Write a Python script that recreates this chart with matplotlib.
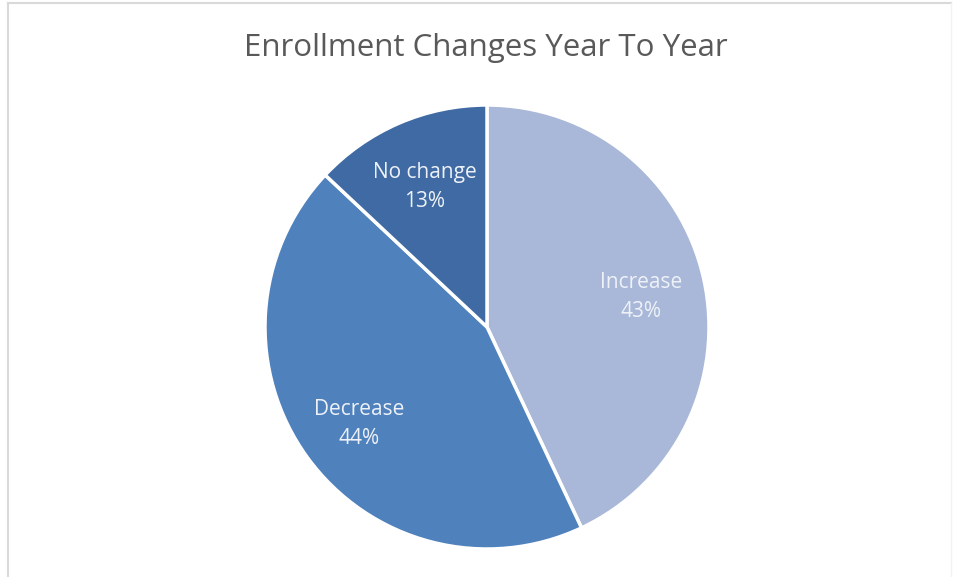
import numpy as np
import matplotlib
matplotlib.use("Agg")
import matplotlib.pyplot as plt
from matplotlib.lines import Line2D

categories = ["Increase", "Decrease", "No change"]
shares = [43, 44, 13]
colors = ["#A9B8D8", "#4F81BD", "#3F6AA3"]

plt.rcParams["font.family"] = ["Open Sans", "DejaVu Sans"]

fig = plt.figure(figsize=(9.56, 5.77), dpi=100)
fig.patch.set_facecolor("white")

# chart-area frame (top, left, right)
fig.add_artist(Line2D([8 / 956, 951 / 956], [1 - 3 / 577, 1 - 3 / 577],
                      transform=fig.transFigure, color="#D9D9D9", lw=1.5))
fig.add_artist(Line2D([8 / 956, 8 / 956], [0, 1 - 3 / 577],
                      transform=fig.transFigure, color="#D9D9D9", lw=1.5))
fig.add_artist(Line2D([951 / 956, 951 / 956], [0, 1 - 3 / 577],
                      transform=fig.transFigure, color="#F2F2F2", lw=1.0))

fig.text(486 / 956, 1 - 48 / 577, "Enrollment Changes Year To Year",
         ha="center", va="center", fontsize=22.5, color="#595959")

ax = fig.add_axes([(487 - 222) / 956, (577 - 549) / 577, 444 / 956, 444 / 577])
wedges, _ = ax.pie(shares, colors=colors, startangle=90, counterclock=False,
                   radius=1.0,
                   wedgeprops=dict(edgecolor="white", linewidth=2.5))
ax.set_xlim(-1.0, 1.0)
ax.set_ylim(-1.0, 1.0)
ax.set_aspect("equal")
ax.axis("off")

for w, name, val in zip(wedges, categories, shares):
    mid = np.deg2rad((w.theta1 + w.theta2) / 2)
    r = 0.71
    ax.text(r * np.cos(mid), r * np.sin(mid) - 0.02, f"{name}\n{val}%",
            ha="center", va="center", fontsize=15, color="#EEF2F8",
            linespacing=1.5)

fig.savefig("out.png", dpi=100, facecolor="white")
